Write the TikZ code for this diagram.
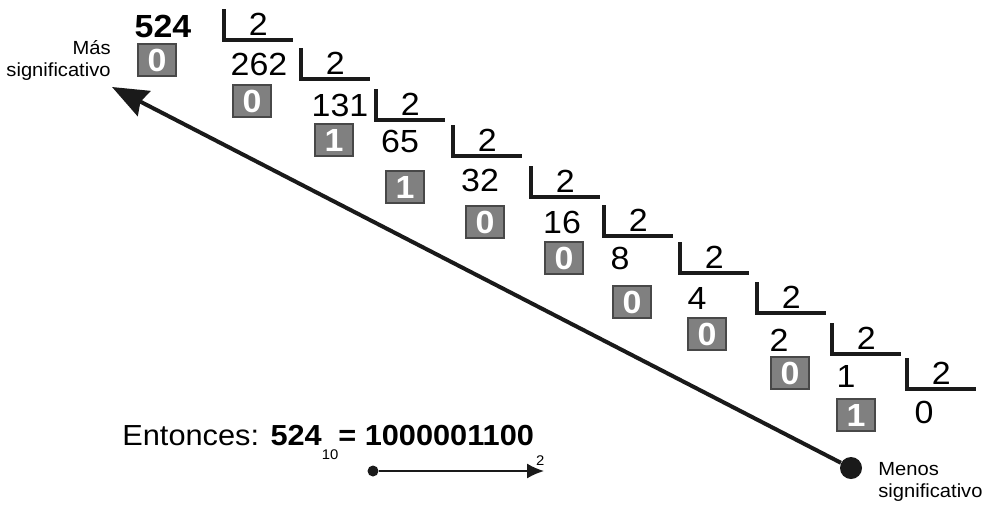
\documentclass[tikz,border=0pt]{standalone}
\usepackage{fontspec}
\setmainfont[FakeStretch=1.06]{Liberation Sans}
\usetikzlibrary{arrows.meta}
\definecolor{ink}{HTML}{1A1A1A}
\definecolor{boxgray}{HTML}{808080}

\begin{document}
\begin{tikzpicture}[x=0.5pt,y=-0.5pt,
  num/.style={inner sep=0pt,font=\fontsize{16}{18}\selectfont},
  divisor/.style={inner sep=0pt,minimum width=34pt,minimum height=15pt,anchor=south west,font=\fontsize{16}{18}\selectfont},
  bracket/.style={line width=1.6pt,ink},
  rest/.style={draw=ink!80,fill=boxgray,line width=0.6pt,minimum width=19pt,minimum height=16pt,inner sep=0pt,text=white,font=\bfseries\fontsize{16}{17}\selectfont},
  sidenote/.style={inner sep=0pt,font=\fontsize{9.5}{11}\selectfont}
]
  \useasboundingbox (0,0) rectangle (988,504);

  \node[num,font=\bfseries\fontsize{16}{18}\selectfont] (n524) at (163,26) {524};
  \node[num] (n262) at (259,64) {262};
  \node[num] (n131) at (340,105) {131};
  \node[num] (n65) at (400,141) {65};
  \node[num] (n32) at (480,180) {32};
  \node[num] (n16) at (562,222) {16};
  \node[num] (n8) at (620,258) {8};
  \node[num] (n4) at (697,298) {4};
  \node[num] (n2) at (779,340) {2};
  \node[num] (n1) at (846,376) {1};
  \node[num] (n0) at (924,412) {0};

  \node[divisor] (d0) at (224,40) {2};
  \node[divisor] (d1) at (301,79) {2};
  \node[divisor] (d2) at (376,120) {2};
  \node[divisor] (d3) at (453,156) {2};
  \node[divisor] (d4) at (531,197) {2};
  \node[divisor] (d5) at (604,236) {2};
  \node[divisor] (d6) at (680,273) {2};
  \node[divisor] (d7) at (757,313) {2};
  \node[divisor] (d8) at (832,354) {2};
  \node[divisor] (d9) at (907,389) {2};
  \draw[bracket] (d0.north west) |- (d0.south east);
  \draw[bracket] (d1.north west) |- (d1.south east);
  \draw[bracket] (d2.north west) |- (d2.south east);
  \draw[bracket] (d3.north west) |- (d3.south east);
  \draw[bracket] (d4.north west) |- (d4.south east);
  \draw[bracket] (d5.north west) |- (d5.south east);
  \draw[bracket] (d6.north west) |- (d6.south east);
  \draw[bracket] (d7.north west) |- (d7.south east);
  \draw[bracket] (d8.north west) |- (d8.south east);
  \draw[bracket] (d9.north west) |- (d9.south east);

  \node[rest] (r0) at (157,60) {0};
  \node[rest] (r1) at (252,101) {0};
  \node[rest] (r2) at (334,140) {1};
  \node[rest] (r3) at (405,187) {1};
  \node[rest] (r4) at (485,222) {0};
  \node[rest] (r5) at (564,258) {0};
  \node[rest] (r6) at (632,302) {0};
  \node[rest] (r7) at (707,334) {0};
  \node[rest] (r8) at (790,373) {0};
  \node[rest] (r9) at (856,415) {1};

  \node[sidenote,align=right,anchor=east] (mas) at (111,60) {Más\\significativo};
  \node[sidenote,align=left,anchor=west] (menos) at (878,482) {Menos\\significativo};

  \node[circle,fill=ink,inner sep=0pt,minimum size=11pt] (lsb) at (851,468) {};
  \coordinate (msb) at (112,87);
  \draw[ink,line width=2pt,-{Stealth[length=18pt,width=14pt,inset=2pt]}] (lsb) -- (msb);

  \node[inner sep=0pt,anchor=base west,font=\fontsize{14.5}{16}\selectfont] (result) at (122,445)
    {Entonces: \textbf{524}\raisebox{-7pt}{\fontsize{7}{8}\selectfont 10}\textbf{= 1000001100}\kern1pt\raisebox{-10pt}{\fontsize{7}{8}\selectfont 2}};
  \node[circle,fill=ink,inner sep=0pt,minimum size=5.5pt] (start) at (373,471) {};
  \coordinate (stop) at (544,471);
  \draw[ink,line width=0.8pt,-{Latex[length=8.5pt,width=7.5pt]}] (start) -- (stop);
\end{tikzpicture}
\end{document}
